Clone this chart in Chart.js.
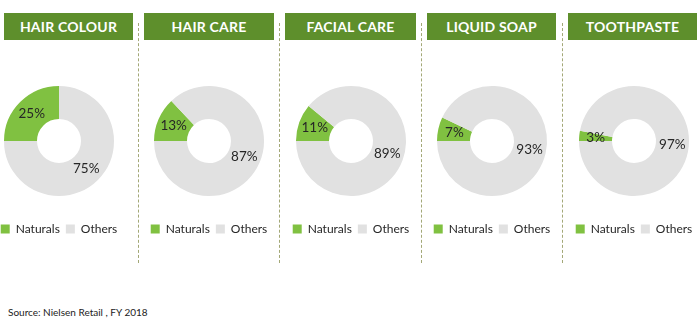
<!DOCTYPE html>
<html>
<head>
<meta charset="utf-8">
<script src="https://cdn.jsdelivr.net/npm/chart.js@4/dist/chart.umd.min.js"></script>
<style>
  html, body { margin: 0; padding: 0; background: #fff; }
  body { width: 700px; height: 324px; position: relative; overflow: hidden; font-family: Lato, "Open Sans", sans-serif; }
  .hdr { position: absolute; top: 13px; height: 27px; background: #5e8f2c; color: #fff;
         font-weight: bold; font-size: 14px; line-height: 27px; text-align: center; letter-spacing: 0.2px; }
  .sep { position: absolute; top: 23px; height: 240px; width: 0; border-left: 1px dashed #a3a877; }
  .cv { position: absolute; top: 65px; width: 160px; height: 180px; }
  .src { position: absolute; left: 8px; top: 306px; font-size: 10px; color: #222; }
</style>
</head>
<body>
<script>
// Category share of naturals vs. others, FY 2018
const categories = ['HAIR COLOUR', 'HAIR CARE', 'FACIAL CARE', 'LIQUID SOAP', 'TOOTHPASTE'];
const seriesLabels = ['Naturals', 'Others'];
const naturals = [25, 13, 11, 7, 3];
const others = [75, 87, 89, 93, 97];

const headerLeft = [4, 144, 285, 427, 568];
const headerWidth = [129, 130, 131, 129, 129];
const donutCenter = [59, 209, 351, 492, 634];
const separators = [138, 279, 421, 562];

const GREEN = '#80c141';
const GREY = '#e1e1e1';

separators.forEach(x => {
  const d = document.createElement('div');
  d.className = 'sep';
  d.style.left = x + 'px';
  document.body.appendChild(d);
});

// percent labels at each arc's centroid
const sliceLabels = {
  id: 'sliceLabels',
  afterDatasetsDraw(chart) {
    const ctx = chart.ctx;
    const meta = chart.getDatasetMeta(0);
    const data = chart.data.datasets[0].data;
    ctx.save();
    ctx.font = '13.5px Lato, "Open Sans", sans-serif';
    ctx.fillStyle = '#262626';
    ctx.textAlign = 'center';
    ctx.textBaseline = 'middle';
    meta.data.forEach((arc, i) => {
      const p = arc.tooltipPosition();
      ctx.fillText(data[i] + '%', p.x, p.y);
    });
    ctx.restore();
  }
};

categories.forEach((name, i) => {
  const h = document.createElement('div');
  h.className = 'hdr';
  h.style.left = headerLeft[i] + 'px';
  h.style.width = headerWidth[i] + 'px';
  h.textContent = name;
  document.body.appendChild(h);

  const c = document.createElement('canvas');
  c.className = 'cv';
  c.width = 160; c.height = 180;
  c.style.left = (donutCenter[i] - 80) + 'px';
  document.body.appendChild(c);

  new Chart(c, {
    type: 'doughnut',
    data: {
      labels: seriesLabels,
      datasets: [{
        data: [naturals[i], others[i]],
        backgroundColor: [GREEN, GREY],
        borderWidth: 0,
        radius: 55,
        cutout: '40%'
      }]
    },
    options: {
      responsive: false,
      animation: false,
      rotation: -90,
      layout: { padding: 0 },
      plugins: {
        tooltip: { enabled: false },
        legend: {
          position: 'bottom',
          labels: {
            boxWidth: 9,
            boxHeight: 9,
            padding: 6,
            color: '#262626',
            font: { family: 'Lato, "Open Sans", sans-serif', size: 12 }
          }
        }
      }
    },
    plugins: [sliceLabels]
  });
});

const s = document.createElement('div');
s.className = 'src';
s.textContent = 'Source: Nielsen Retail , FY 2018';
document.body.appendChild(s);
</script>
</body>
</html>
